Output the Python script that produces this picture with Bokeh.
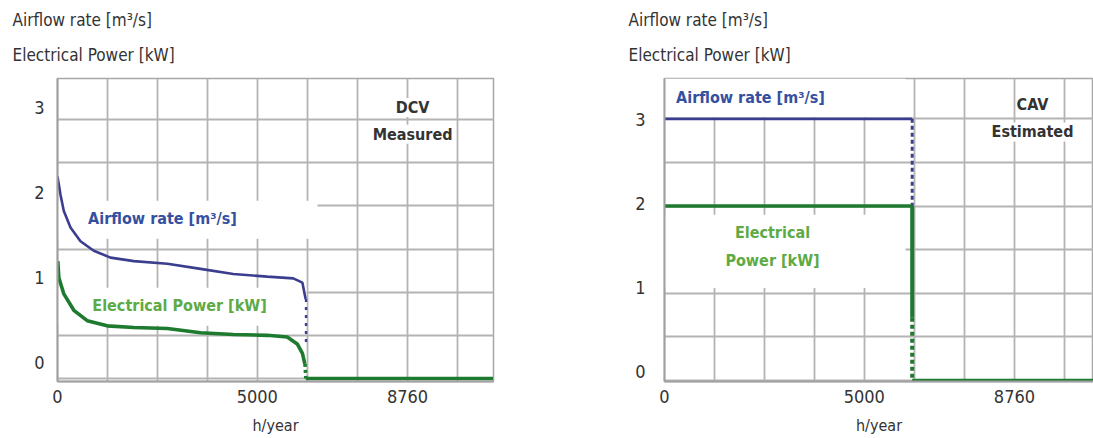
from bokeh.plotting import figure
from bokeh.layouts import row
from bokeh.models import Range1d, LinearAxis, FixedTicker, Label, BoxAnnotation, Title
from bokeh.embed import file_html
from bokeh.resources import INLINE

# ---------------- data ----------------
# DCV measured (duration curve, hours sorted)
dcv_hours = [0, 75, 158, 325, 575, 909, 1326, 1910, 2750, 3580, 4400, 5250, 5900, 6130, 6210]
dcv_airflow = [2.34, 2.13, 1.94, 1.75, 1.59, 1.48, 1.40, 1.36, 1.33, 1.27, 1.21, 1.18, 1.16, 1.11, 0.92]
dcv_power_hours = [8, 33, 158, 409, 743, 1243, 1910, 2750, 3580, 4400, 5250, 5750, 6000, 6130, 6190]
dcv_power = [1.36, 1.17, 0.98, 0.79, 0.67, 0.61, 0.59, 0.58, 0.53, 0.51, 0.50, 0.48, 0.40, 0.29, 0.17]
dcv_airflow_drop_hours = [6220, 6220]
dcv_airflow_drop = [0.92, 0.42]
dcv_power_drop_hours = [6195, 6215]
dcv_power_drop = [0.17, 0.0]
dcv_off_hours = [6215, 10900]
dcv_off = [0.0, 0.0]

# CAV estimated
cav_hours = [0, 6200]
cav_airflow = [3.0, 3.0]
cav_power = [2.0, 2.0]
cav_drop_hours = [6200, 6200]
cav_airflow_drop = [3.0, 2.0]
cav_power_drop_solid = [2.0, 0.72]
cav_power_drop_dotted = [0.72, 0.0]
cav_off_hours = [6200, 10740]
cav_off = [0.0, 0.0]

x_tick_values = [0, 5000, 8760]
y_tick_values = [0, 1, 2, 3]
grid_step_hours = 8760 / 7
y_grid_values = [0, 0.5, 1.0, 1.5, 2.0, 2.5, 3.0, 3.5]

axis_title_1 = "Airflow rate [m³/s]"
axis_title_2 = "Electrical Power [kW]"
x_title = "h/year"

FONT = "Liberation Sans Narrow, DejaVu Sans Condensed, Noto Sans Condensed, Roboto Condensed, Roboto, sans-serif"
NAVY = "#3b3d8e"
GREEN = "#1d7a2f"
LBLUE = "#34509f"
LGREEN = "#5eaa45"
GRID = "#b4b4b4"
TXT = "#333333"
H = 438


def base_fig(width, x_end, y_start, y_end, lab_start, lab_end, bl, br, standoff, title_offset):
    p = figure(width=width, height=H, x_range=Range1d(0, x_end),
               y_range=Range1d(y_start, y_end), y_axis_location=None,
               output_backend="svg", toolbar_location=None,
               min_border_left=bl, min_border_right=br,
               min_border_top=78, min_border_bottom=57)
    p.extra_y_ranges = {"lab": Range1d(lab_start, lab_end)}
    yax = LinearAxis(y_range_name="lab", ticker=FixedTicker(ticks=y_tick_values))
    p.add_layout(yax, "left")
    for ax in (p.xaxis[0], yax):
        ax.major_tick_line_color = None
        ax.minor_tick_line_color = None
        ax.axis_line_color = "#a0a0a0"
        ax.axis_line_width = 2
        ax.major_label_text_font = FONT
        ax.major_label_text_font_size = "18px"
        ax.major_label_text_color = TXT
    yax.major_label_standoff = standoff
    p.xaxis.ticker = FixedTicker(ticks=x_tick_values)
    p.xaxis.major_label_standoff = 2
    p.xaxis.axis_label = x_title
    p.xaxis.axis_label_text_font = FONT
    p.xaxis.axis_label_text_font_size = "16px"
    p.xaxis.axis_label_text_font_style = "normal"
    p.xaxis.axis_label_text_color = TXT
    p.xaxis.axis_label_standoff = 10
    n = int(x_end // grid_step_hours) + 1
    p.xgrid.ticker = FixedTicker(ticks=[grid_step_hours * k for k in range(n)])
    p.ygrid.ticker = FixedTicker(ticks=y_grid_values)
    for g in (p.xgrid, p.ygrid):
        g.grid_line_color = GRID
        g.grid_line_width = 1.8
    p.outline_line_color = "#a8a8a8"
    p.outline_line_width = 1.5
    p.background_fill_color = "white"
    p.border_fill_color = "white"
    # two-line y-axis title written above the frame
    p.add_layout(Title(text=axis_title_2, align="left", offset=title_offset, standoff=27,
                       text_font=FONT, text_font_size="17px", text_font_style="normal",
                       text_color=TXT), "above")
    p.add_layout(Title(text=axis_title_1, align="left", offset=title_offset, standoff=0,
                       text_font=FONT, text_font_size="17px", text_font_style="normal",
                       text_color=TXT), "above")
    return p


def text(p, x, y, t, color, bg=None):
    p.add_layout(Label(x=x, y=y, text=t, text_font=FONT, text_font_size="16px",
                       text_font_style="bold",
                       text_color=color, text_align="center", text_baseline="middle",
                       background_fill_color=bg))


def whitebox(p, left, right, bottom, top):
    p.add_layout(BoxAnnotation(left=left, right=right, bottom=bottom, top=top,
                               fill_color="white", fill_alpha=1.0, line_color=None,
                               level="underlay"))


# ---------------- left: DCV ----------------
p1 = base_fig(568, 10912, -0.035, 3.476, -0.218, 3.347, 57, 75, 7, -45)
whitebox(p1, 0, 6508, 1.62, 2.06)
whitebox(p1, 0, 6230, 0.61, 1.05)

p1.line(dcv_hours, dcv_airflow, line_color=NAVY, line_width=2.6)
p1.line(dcv_airflow_drop_hours, dcv_airflow_drop, line_color=NAVY, line_width=2.4, line_dash="3 5")
p1.line(dcv_power_hours, dcv_power, line_color=GREEN, line_width=3.6)
p1.line(dcv_power_drop_hours, dcv_power_drop, line_color=GREEN, line_width=3.6, line_dash="3 3")
p1.line(dcv_off_hours, dcv_off, line_color=GREEN, line_width=3.6)

text(p1, 2628, 1.85, axis_title_1, LBLUE)
text(p1, 3054, 0.846, axis_title_2, LGREEN)
text(p1, 8886, 3.14, "DCV", TXT, bg="white")
text(p1, 8886, 2.83, "Measured", TXT, bg="white")

# ---------------- right: CAV ----------------
p2 = base_fig(525, 10738, -0.012, 3.463, -0.119, 3.488, 96, 0, 13, -36)
whitebox(p2, 0, 6032, 3.02, 3.463)
whitebox(p2, 0, 6032, 1.06, 1.90)

p2.line(cav_hours, cav_airflow, line_color=NAVY, line_width=2.6)
p2.line(cav_drop_hours, cav_airflow_drop, line_color=NAVY, line_width=3, line_dash="4 3")
p2.line(cav_hours, cav_power, line_color=GREEN, line_width=3.6)
p2.line(cav_drop_hours, cav_power_drop_solid, line_color=GREEN, line_width=4)
p2.line(cav_drop_hours, cav_power_drop_dotted, line_color=GREEN, line_width=4, line_dash="4 3")
p2.line(cav_off_hours, cav_off, line_color=GREEN, line_width=3.6)

text(p2, 2152, 3.25, axis_title_1, LBLUE)
text(p2, 2703, 1.70, "Electrical", LGREEN)
text(p2, 2703, 1.38, "Power [kW]", LGREEN)
text(p2, 9211, 3.16, "CAV", TXT, bg="white")
text(p2, 9211, 2.85, "Estimated", TXT, bg="white")

layout = row(p1, p2)
open("out.html", "w").write(file_html(layout, INLINE))
